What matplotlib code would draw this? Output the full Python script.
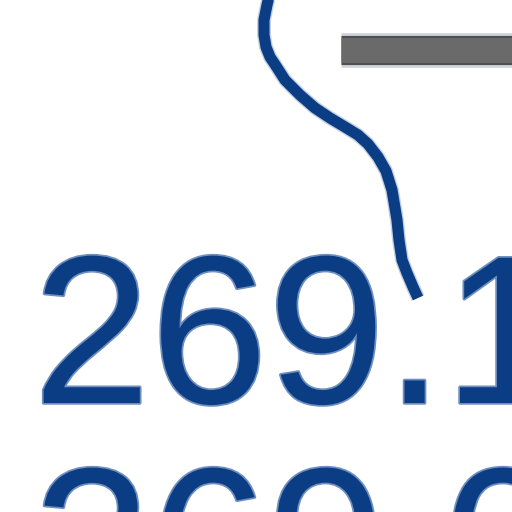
import matplotlib
matplotlib.use("Agg")
import matplotlib.pyplot as plt
import matplotlib.patheffects as pe

# Data (zoomed-in region, coordinates in the view's own units)
line_x = [270, 267, 264, 264, 266, 270, 276, 285, 300, 315, 330, 345, 358, 368, 378, 386, 392, 397, 399, 402, 407, 413, 418]
line_y = [-8, 5, 20, 35, 47, 57, 66, 80, 95, 108, 118, 127, 135, 144, 157, 171, 190, 220, 240, 260, 273, 287, 298]
gray_x = [341, 530]
gray_y = [50, 50]
labels = ["269.1", "269.0"]
label_x = [33, 33]
label_y = [403, 615]

blue = "#0b3d85"

fig = plt.figure(figsize=(5.12, 5.12), dpi=100)
ax = fig.add_axes([0, 0, 1, 1])
ax.set_xlim(0, 512)
ax.set_ylim(512, 0)
ax.axis("off")

ax.plot(line_x, line_y, color=blue, lw=8, solid_capstyle="butt", solid_joinstyle="round",
        path_effects=[pe.Stroke(linewidth=10, foreground="#9fb3d0", alpha=0.6), pe.Normal()])
ax.plot(gray_x, gray_y, color="#6a6a6a", lw=18, solid_capstyle="butt",
        path_effects=[pe.Stroke(linewidth=25, foreground="#cfd4dc"),
                      pe.Stroke(linewidth=21, foreground="#4f4f4f"), pe.Normal()])

for t, x, y in zip(labels, label_x, label_y):
    ax.text(x, y, t, color=blue, fontsize=152, family="Liberation Sans",
            ha="left", va="baseline",
            path_effects=[pe.Stroke(linewidth=2.5, foreground="#6f8fbf"), pe.Normal()])

fig.savefig("out.png", dpi=100)
